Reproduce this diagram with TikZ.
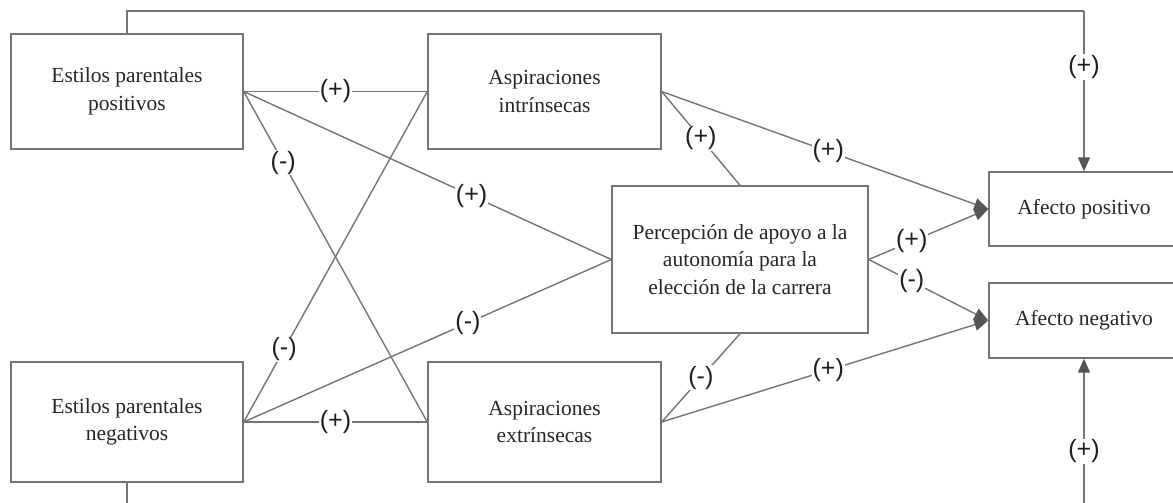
\documentclass[tikz,border=0pt]{standalone}
\usepackage{fontspec}
\setmainfont{Liberation Serif}
\newfontfamily\labfont{Liberation Sans}
\usetikzlibrary{arrows.meta}
\definecolor{linegray}{HTML}{747474}
\definecolor{arrowgray}{HTML}{555555}
\definecolor{txtgray}{HTML}{262626}
\tikzset{
  boxnode/.style={draw=linegray, line width=1.4pt, rectangle, inner sep=0pt, align=center,
    text=txtgray, font=\fontsize{21.5}{27.5}\selectfont},
  conn/.style={draw=linegray, line width=1.4pt},
  arr/.style={conn, -{Triangle[length=14pt,width=12pt,color=arrowgray]}},
  lab/.style={fill=white, inner sep=1pt, text=black!88, font=\labfont\fontsize{25}{28}\selectfont}
}
\begin{document}
\begin{tikzpicture}[x=1pt,y=-1pt]
\useasboundingbox (0,0) rectangle (1173,503);
\clip (0,0) rectangle (1173,503);
% boxes
\node[boxnode, minimum width=232pt, minimum height=115pt] (epp) at (127,91.5) {Estilos parentales\\positivos};
\node[boxnode, minimum width=233pt, minimum height=115pt] (ai) at (544.5,91.5) {Aspiraciones\\intrínsecas};
\node[boxnode, minimum width=232pt, minimum height=120pt] (epn) at (127,422) {Estilos parentales\\negativos};
\node[boxnode, minimum width=233pt, minimum height=120pt] (ae) at (544.5,422) {Aspiraciones\\extrínsecas};
\node[boxnode, minimum width=256pt, minimum height=147pt] (pa) at (740,259.5) {Percepción de apoyo a la\\autonomía para la\\elección de la carrera};
\node[boxnode, minimum width=190pt, minimum height=74pt] (ap) at (1084,209) {Afecto positivo};
\node[boxnode, minimum width=190pt, minimum height=75pt] (an) at (1084,320.5) {Afecto negativo};
% helper coordinates for brackets
\coordinate (ttop) at (0,11);
\coordinate (tbot) at (0,506);
% left connections
\draw[conn] (epp.east) -- node[lab,pos=0.5]{(+)} (ai.west);
\draw[conn] (epp.east) -- node[lab,pos=0.215]{(-)} (ae.west);
\draw[conn] (epp.east) -- node[lab,pos=0.62]{(+)} (pa.west);
\draw[conn] (epn.east) -- node[lab,pos=0.22]{(-)} (ai.west);
\draw[conn] (epn.east) -- node[lab,pos=0.61]{(-)} (pa.west);
\draw[conn] (epn.east) -- node[lab,pos=0.5]{(+)} (ae.west);
% middle connections
\draw[conn] (ai.east) -- node[lab,pos=0.5]{(+)} (pa.north);
\draw[conn] (ae.east) -- node[lab,pos=0.5]{(-)} (pa.south);
\draw[arr] (ai.east) -- node[lab,pos=0.51]{(+)} (ap.west);
\draw[arr] (ae.east) -- node[lab,pos=0.51]{(+)} (an.west);
\draw[arr] (pa.east) -- node[lab,pos=0.36]{(+)} (ap.west);
\draw[arr] (pa.east) -- node[lab,pos=0.36]{(-)} (an.west);
% brackets
\draw[conn] (epp.north) -- (epp.north |- ttop) -- (ap.north |- ttop);
\draw[arr] (ap.north |- ttop) -- node[lab,pos=0.35]{(+)} (ap.north);
\draw[conn] (epn.south) -- (epn.south |- tbot) -- (an.south |- tbot);
\draw[arr] (an.south |- tbot) -- node[lab,pos=0.37]{(+)} (an.south);
\end{tikzpicture}
\end{document}
